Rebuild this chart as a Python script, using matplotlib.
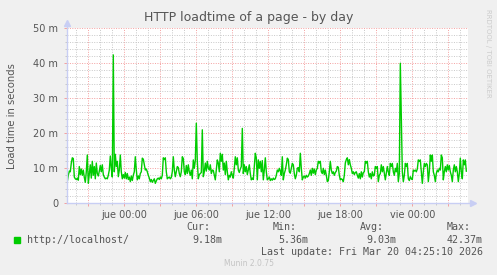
import matplotlib
matplotlib.use("Agg")
import matplotlib.pyplot as plt
import numpy as np

# ---- data (values in milliseconds "m"), 5-minute samples ----
start_hour = -4.75          # hours relative to "jue 00:00"
step_hours = 5.0 / 60.0
load_ms = [
    6.2, 8.0, 9.2, 9.0, 11.5, 13.0, 12.8, 7.5, 7.0, 6.8,
    7.2, 6.6, 10.5, 8.2, 9.8, 8.0, 9.5, 7.4, 6.0, 9.0,
    13.8, 5.7, 8.5, 11.0, 7.2, 12.0, 8.0, 10.5, 7.0, 11.5,
    8.5, 7.8, 9.2, 10.8, 9.0, 11.0, 8.2, 7.5, 7.0, 7.2,
    7.0, 8.0, 9.5, 13.5, 10.0, 7.5, 42.4, 9.0, 14.0, 10.5,
    12.0, 7.6, 9.5, 13.8, 9.0, 7.0, 8.2, 7.2, 8.8, 7.0,
    8.5, 6.8, 7.5, 6.2, 7.8, 6.5, 8.0, 9.0, 13.3, 9.5,
    6.7, 7.8, 7.0, 8.5, 9.0, 12.9, 12.6, 11.0, 9.5, 9.8,
    9.0, 8.0, 7.2, 6.2, 6.8, 6.0, 6.5, 7.0, 5.7, 6.4,
    7.0, 7.2, 6.8, 7.5, 7.0, 8.0, 13.0, 12.5, 13.0, 9.0,
    7.0, 7.3, 7.5, 7.0, 7.4, 9.0, 13.3, 9.5, 7.6, 9.0,
    10.5, 10.2, 8.5, 7.6, 9.0, 13.3, 12.8, 9.0, 8.2, 10.8,
    8.5, 11.0, 9.0, 8.0, 9.5, 7.0, 12.4, 10.0, 12.2, 22.9,
    12.0, 7.0, 8.2, 8.5, 8.8, 21.0, 7.6, 9.0, 11.5, 9.2,
    12.0, 10.0, 9.5, 11.0, 8.5, 9.5, 9.4, 8.0, 6.7, 9.5,
    12.4, 11.5, 9.0, 14.3, 12.0, 14.0, 9.5, 11.5, 8.2, 12.0,
    9.0, 6.7, 8.0, 7.5, 9.0, 8.0, 7.2, 10.0, 13.3, 11.0,
    13.0, 9.5, 8.8, 9.8, 10.5, 21.4, 8.5, 11.0, 9.0, 10.5,
    8.2, 9.5, 11.0, 8.5, 6.7, 7.2, 6.8, 10.5, 14.3, 13.0,
    6.7, 12.4, 10.0, 12.0, 9.0, 12.2, 6.7, 9.5, 13.0, 9.0,
    6.7, 7.0, 7.5, 6.5, 7.0, 6.6, 7.2, 6.8, 7.0, 8.0,
    9.5, 9.0, 10.0, 9.2, 8.0, 13.3, 6.7, 8.5, 9.5, 11.0,
    12.9, 12.5, 9.0, 8.6, 10.0, 11.4, 11.0, 8.5, 7.0, 8.0,
    10.0, 10.2, 9.0, 14.3, 10.0, 6.7, 7.5, 7.8, 7.2, 8.0,
    7.5, 7.8, 8.5, 9.5, 8.0, 10.0, 8.6, 9.8, 8.2, 9.5,
    10.0, 12.0, 11.5, 12.0, 9.0, 8.5, 10.0, 8.2, 9.5, 8.0,
    6.2, 6.5, 9.0, 12.0, 9.5, 8.5, 9.0, 8.0, 8.8, 9.2,
    10.5, 10.3, 8.0, 6.7, 7.0, 6.8, 6.2, 8.0, 11.5, 12.5,
    13.0, 11.0, 12.5, 11.0, 10.0, 8.5, 9.0, 8.2, 8.8, 9.0,
    8.0, 7.2, 8.5, 7.0, 9.0, 7.5, 8.8, 9.0, 12.0, 11.5,
    12.0, 9.0, 7.5, 8.5, 7.0, 9.0, 7.8, 8.0, 10.5, 10.0,
    10.5, 6.2, 8.0, 8.5, 11.0, 9.0, 10.5, 8.5, 6.7, 8.5,
    10.5, 9.0, 8.0, 11.4, 10.5, 11.4, 9.0, 8.0, 10.0, 9.0,
    11.4, 6.2, 8.5, 40.0, 25.0, 9.0, 6.2, 8.0, 11.4, 10.5,
    11.4, 7.0, 6.5, 7.6, 7.0, 6.8, 9.5, 9.2, 9.5, 9.0,
    9.8, 12.4, 12.0, 12.4, 9.0, 5.7, 9.0, 11.4, 10.5, 11.4,
    11.0, 6.2, 9.0, 13.8, 12.0, 13.8, 9.0, 8.0, 6.2, 8.5,
    9.5, 9.0, 10.0, 9.5, 13.8, 13.0, 6.7, 9.0, 10.5, 9.0,
    11.0, 9.5, 10.8, 9.0, 8.0, 6.2, 9.5, 11.0, 9.0, 10.5,
    9.0, 6.2, 8.5, 12.9, 9.0, 7.0, 12.4, 11.0, 12.4, 9.18,
]
times = start_hour + step_hours * np.arange(len(load_ms))

x_label_pos = [0, 6, 12, 18, 24]
x_labels = ["jue 00:00", "jue 06:00", "jue 12:00", "jue 18:00", "vie 00:00"]
y_ticks = [0, 10, 20, 30, 40, 50]
y_labels = ["0", "10 m", "20 m", "30 m", "40 m", "50 m"]

series_name = "http://localhost/"
stat_names = ["Cur:", "Min:", "Avg:", "Max:"]
stat_values = ["9.18m", "5.36m", "9.03m", "42.37m"]

# ---- figure ----
W, H = 497, 275
BG = "#F0F0F0"
FONT = "#555555"
AXIS = "#C8CEF4"
MGRID = "#F4A0A0"
GRID = "#C8C8C8"
GREEN = "#00CC00"

fig = plt.figure(figsize=(W / 100, H / 100), dpi=100, facecolor=BG)
L, R, T, B = 66.7, 468.0, 28.3, 203.3
ax = fig.add_axes([L / W, (H - B) / H, (R - L) / W, (B - T) / H])
ax.set_facecolor("white")

ax.set_xlim(-4.8, 28.64)
ax.set_ylim(0, 50)

major_x = np.arange(-3, 29, 3)
ax.set_xticks(major_x)
ax.set_xticklabels([x_labels[x_label_pos.index(v)] if v in x_label_pos else "" for v in major_x])
ax.set_xticks(np.arange(-4, 29, 1), minor=True)
ax.set_yticks(y_ticks)
ax.set_yticklabels(y_labels)
ax.set_yticks(np.arange(0, 51, 2), minor=True)

ax.grid(which="minor", color=GRID, linestyle=(0, (1, 1.5)), linewidth=0.7)
ax.grid(which="major", color=MGRID, linestyle=(0, (1, 1.5)), linewidth=0.7)
ax.set_axisbelow(True)

ax.tick_params(which="both", labelsize=7, labelcolor=FONT)
ax.tick_params(axis="x", which="major", length=2, width=0.7, color=MGRID, pad=3)
ax.tick_params(axis="x", which="minor", length=1.5, width=0.7, color=GRID)
ax.tick_params(axis="y", which="major", length=2, width=0.7, color=MGRID, pad=4)
ax.tick_params(axis="y", which="minor", length=1.5, width=0.7, color=GRID)

for s in ax.spines.values():
    s.set_visible(False)

ax.plot(times, load_ms, color=GREEN, linewidth=1.0, zorder=3)

# axes lines with arrows (rrdtool style)
ax.plot([0, 1.012], [0, 0], transform=ax.transAxes, color=AXIS, lw=1.0, clip_on=False, zorder=4)
ax.plot([0, 0], [0, 1.03], transform=ax.transAxes, color=AXIS, lw=1.0, clip_on=False, zorder=4)
ax.plot([1.012], [0], transform=ax.transAxes, marker=">", color=AXIS, markersize=4, clip_on=False, zorder=4)
ax.plot([0], [1.03], transform=ax.transAxes, marker="^", color=AXIS, markersize=4, clip_on=False, zorder=4)

ax.set_ylabel("Load time in seconds", fontsize=7.2, color=FONT)
ax.yaxis.set_label_coords(-(L - 17.5) / (R - L), 0.5)

# title
fig.text(0.5, 1 - 18 / H, "HTTP loadtime of a page - by day",
         ha="center", va="center", fontsize=9, color=FONT)

# watermark
fig.text(488 / W, 1 - 53 / H, "RRDTOOL / TOBI OETIKER", rotation=270,
         ha="center", va="center", fontsize=5, color="#CCCCCC")

# legend
mono = "DejaVu Sans Mono"
fig.patches.append(plt.Rectangle((14 / W, 1 - 242.7 / H), 6 / W, 6 / H,
                                 transform=fig.transFigure, color=GREEN))
fig.text(27 / W, 1 - 239.7 / H, series_name, ha="left", va="center",
         fontsize=7.2, family=mono, color=FONT)
head_x = [186, 273, 360, 447]
val_right = [222, 308, 396, 483]
for hx, name in zip(head_x, stat_names):
    fig.text(hx / W, 1 - 227.5 / H, name, ha="left", va="center",
             fontsize=7.2, family=mono, color=FONT)
for vx, val in zip(val_right, stat_values):
    fig.text(vx / W, 1 - 239.7 / H, val, ha="right", va="center",
             fontsize=7.2, family=mono, color=FONT)
fig.text(483 / W, 1 - 251.7 / H, "Last update: Fri Mar 20 04:25:10 2026",
         ha="right", va="center", fontsize=7.2, family=mono, color=FONT)
fig.text(0.5, 1 - 263.5 / H, "Munin 2.0.75", ha="center", va="center",
         fontsize=5.5, color="#C4C4C4")

fig.savefig("out.png", dpi=100, facecolor=BG)
